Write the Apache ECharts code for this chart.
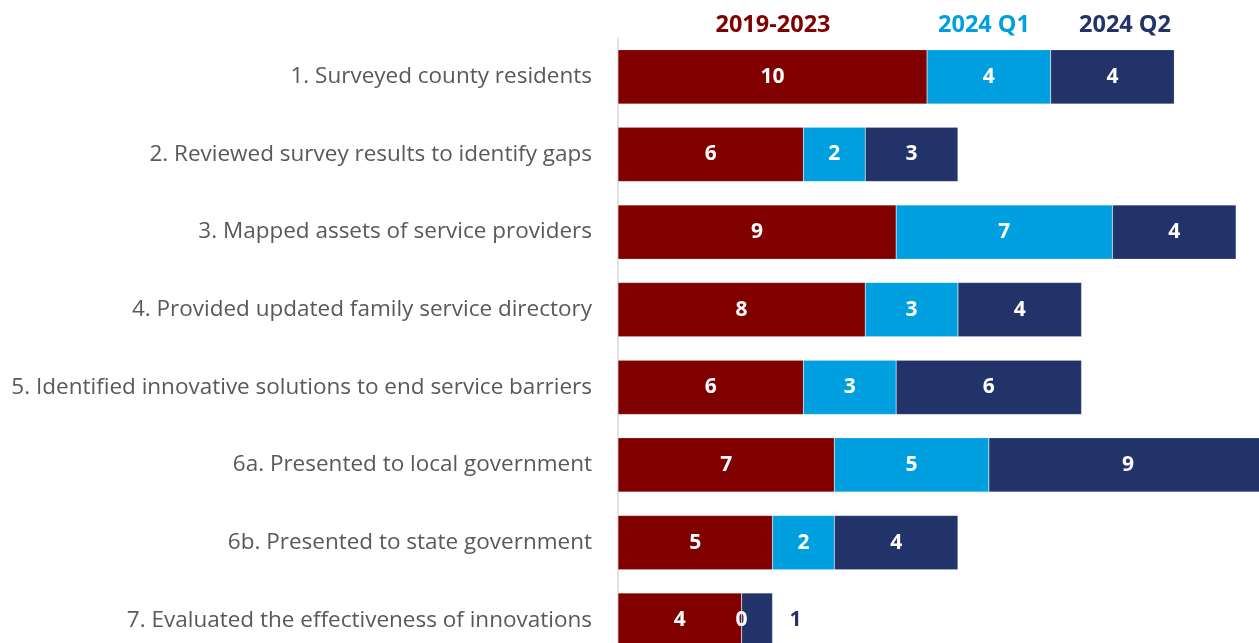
<!DOCTYPE html>
<html>
<head>
<meta charset="utf-8">
<script src="https://cdn.jsdelivr.net/npm/echarts@6/dist/echarts.min.js"></script>
<style>
  html, body { margin: 0; padding: 0; background: #fff; overflow: hidden; }
  #chart { width: 1270px; height: 660px; }
</style>
</head>
<body>
<div id="chart"></div>
<script>
// Program milestones, counted per period
const categories = [
  '1. Surveyed county residents',
  '2. Reviewed survey results to identify gaps',
  '3. Mapped assets of service providers',
  '4. Provided updated family service directory',
  '5. Identified innovative solutions to end service barriers',
  '6a. Presented to local government',
  '6b. Presented to state government',
  '7. Evaluated the effectiveness of innovations'
];
const seriesNames = ['2019-2023', '2024 Q1', '2024 Q2'];
const period2019to2023 = [10, 6, 9, 8, 6, 7, 5, 4];
const period2024Q1 = [4, 2, 7, 3, 3, 5, 2, 0];
const period2024Q2 = [4, 3, 4, 4, 6, 9, 4, 1];

const colors = ['#800000', '#009fdf', '#22336a'];
const font = '"Open Sans", "Noto Sans", sans-serif';

const chart = echarts.init(document.getElementById('chart'), null, { renderer: 'canvas' });

const values = [period2019to2023, period2024Q1, period2024Q2];

// Small segments get their label placed just outside the bar
function buildData(vals, seriesIdx) {
  return vals.map(v => {
    if (seriesIdx === 2 && v <= 1) {
      return { value: v, label: { position: 'right', distance: 17, color: colors[2] } };
    }
    return v;
  });
}

// Series names written above the first row, coloured like their segments
const headerCenters = [773, 984, 1125];
const headers = seriesNames.map((name, i) => ({
  type: 'text',
  x: headerCenters[i],
  y: 25,
  style: {
    text: name,
    fill: colors[i],
    font: 'bold 23.5px ' + font,
    textAlign: 'center',
    textVerticalAlign: 'middle'
  }
}));

chart.setOption({
  animation: false,
  textStyle: { fontFamily: font },
  graphic: headers,
  grid: { left: 618, top: 38, width: 649, height: 621, containLabel: false },
  xAxis: { type: 'value', min: 0, max: 21, show: false },
  yAxis: {
    type: 'category',
    data: categories,
    inverse: true,
    axisTick: { show: false },
    axisLine: { show: true, lineStyle: { color: '#d9d9d9', width: 1.5 } },
    axisLabel: { color: '#595959', fontSize: 22.5, fontFamily: font, margin: 26 },
    splitLine: { show: false }
  },
  series: seriesNames.map((name, i) => ({
    name: name,
    type: 'bar',
    stack: 'total',
    barCategoryGap: '30%',
    data: buildData(values[i], i),
    itemStyle: { color: colors[i], borderColor: 'rgba(255,255,255,0.35)', borderWidth: 0.5 },
    label: {
      show: true,
      position: 'inside',
      color: '#ffffff',
      fontFamily: font,
      fontWeight: 'bold',
      fontSize: 21
    }
  }))
});
</script>
</body>
</html>
